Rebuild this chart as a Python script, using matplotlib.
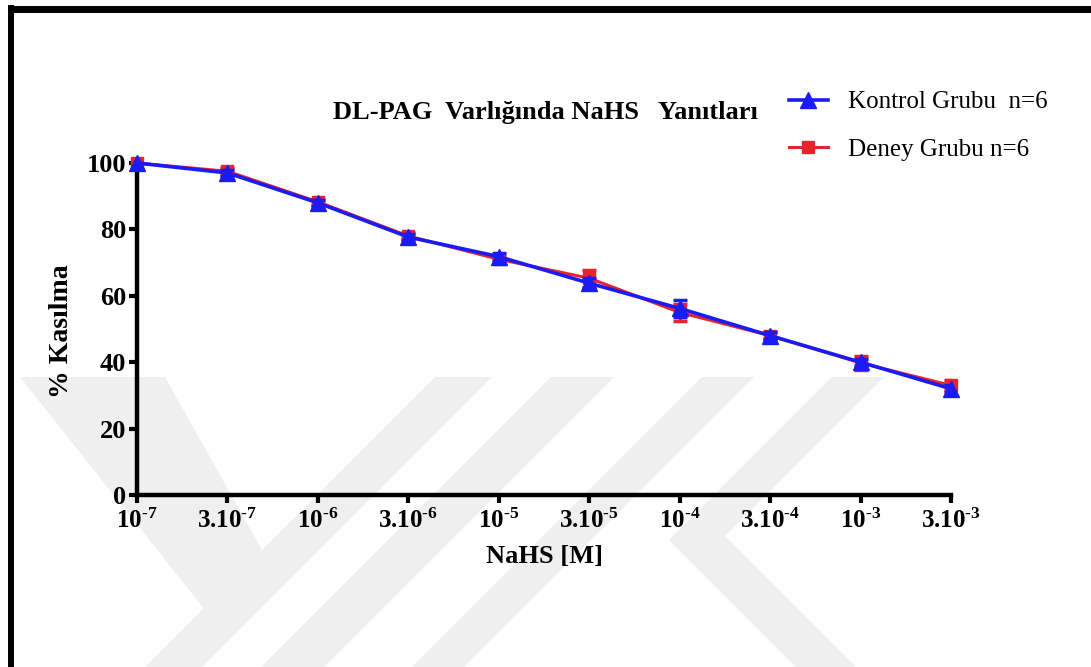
import matplotlib
matplotlib.use("Agg")
import matplotlib.pyplot as plt
from matplotlib.lines import Line2D
from matplotlib.patches import Polygon

# NaHS concentrations (x categories) and % contraction responses
CONCENTRATIONS = ["10^{‐7}", "3.10^{‐7}", "10^{‐6}", "3.10^{‐6}", "10^{‐5}",
                  "3.10^{‐5}", "10^{‐4}", "3.10^{‐4}", "10^{‐3}", "3.10^{‐3}"]
KONTROL = [100, 97, 88, 77.7, 71.8, 63.8, 56.2, 48, 40, 32]
KONTROL_SEM = [0, 1, 1, 1, 1, 1.5, 2.5, 1, 1, 1]
DENEY = [100, 97.5, 88.3, 78, 71, 65.3, 55, 48, 39.8, 33]
DENEY_SEM = [0, 1, 1, 1, 1, 2.5, 2.5, 1, 2, 1.5]
Y_TICKS = [0, 20, 40, 60, 80, 100]

W, H = 1091, 667
BLUE = "#1b1bf5"
RED = "#e8232b"
GREY = "#efefef"

plt.rcParams["font.family"] = ["Liberation Serif", "DejaVu Serif"]
plt.rcParams["mathtext.fontset"] = "custom"
plt.rcParams["mathtext.rm"] = "Liberation Serif"
plt.rcParams["mathtext.bf"] = "Liberation Serif:bold"


def px(x, y):
    # pixel position (origin top-left) -> figure fraction
    return (x / W, 1 - y / H)


fig = plt.figure(figsize=(W / 100, H / 100), dpi=100)

# faint logo in the background
logo = [
    [(20, 377), (165, 377), (262, 550), (205, 610)],
    [(435, 377), (492, 377), (202, 667), (145, 667)],
    [(551, 377), (614, 377), (324, 667), (261, 667)],
    [(702, 377), (754, 377), (464, 667), (412, 667)],
    [(832, 377), (884, 377), (725, 536), (856, 667), (796, 667), (669, 540)],
]
for band in logo:
    fig.add_artist(Polygon([px(*p) for p in band], closed=True,
                           transform=fig.transFigure, facecolor=GREY,
                           edgecolor="none", zorder=-5))

# page frame (top and left edges)
fig.add_artist(Line2D([px(8, 8.5)[0], 1], [px(8, 8.5)[1]] * 2,
                      transform=fig.transFigure, color="black", lw=5,
                      solid_capstyle="butt"))
fig.add_artist(Line2D([px(11, 0)[0]] * 2, [px(0, 5)[1], 0],
                      transform=fig.transFigure, color="black", lw=4.3,
                      solid_capstyle="butt"))

x0, y0 = px(137, 495)
x1, y1 = px(951, 163)
ax = fig.add_axes([x0, y0, x1 - x0, y1 - y0])
ax.patch.set_alpha(0)

xs = list(range(len(CONCENTRATIONS)))

ax.errorbar(xs, DENEY, yerr=DENEY_SEM, fmt="none", ecolor=RED,
            elinewidth=2, capsize=5, capthick=2.5, zorder=3)
ax.plot(xs, DENEY, color=RED, lw=2.2, marker="s", ms=9, clip_on=False,
        zorder=3)
ax.errorbar(xs, KONTROL, yerr=KONTROL_SEM, fmt="none", ecolor=BLUE,
            elinewidth=2, capsize=5, capthick=2.5, zorder=4)
ax.plot(xs, KONTROL, color=BLUE, lw=2.6, marker="^", ms=11, clip_on=False,
        zorder=4)

ax.set_xlim(0, 9)
ax.set_ylim(0, 100)
for side in ["top", "right"]:
    ax.spines[side].set_visible(False)
for side in ["left", "bottom"]:
    ax.spines[side].set_linewidth(3.2)

ax.set_xticks(xs)
ax.set_xticklabels([r"$\mathbf{" + c + "}$" for c in CONCENTRATIONS])
ax.set_yticks(Y_TICKS)
ax.tick_params(direction="out", length=6, width=3, pad=2)
ax.tick_params(axis="x", labelsize=18, pad=4)
ax.tick_params(axis="y", labelsize=19)
for lbl in ax.get_yticklabels():
    lbl.set_fontweight("bold")

fig.text(*px(61, 331), "% Kasılma", rotation=90, ha="center", va="center",
         fontsize=20, fontweight="bold")
fig.text(*px(544, 557), "NaHS [M]", ha="center", va="center",
         fontsize=19, fontweight="bold")
fig.text(*px(545, 113), "DL-PAG  Varlığında NaHS   Yanıtları",
         ha="center", va="center", fontsize=19, fontweight="bold")

handles = [
    Line2D([], [], color=BLUE, lw=2.6, marker="^", ms=11),
    Line2D([], [], color=RED, lw=2.2, marker="s", ms=9),
]
fig.legend(handles, ["Kontrol Grubu  n=6", "Deney Grubu n=6"],
           loc="upper left", bbox_to_anchor=px(789, 91), frameon=False,
           fontsize=18, handlelength=1.55, handletextpad=0.8,
           labelspacing=1.0, borderpad=0, borderaxespad=0)

fig.savefig("out.png", dpi=100, facecolor="white")
